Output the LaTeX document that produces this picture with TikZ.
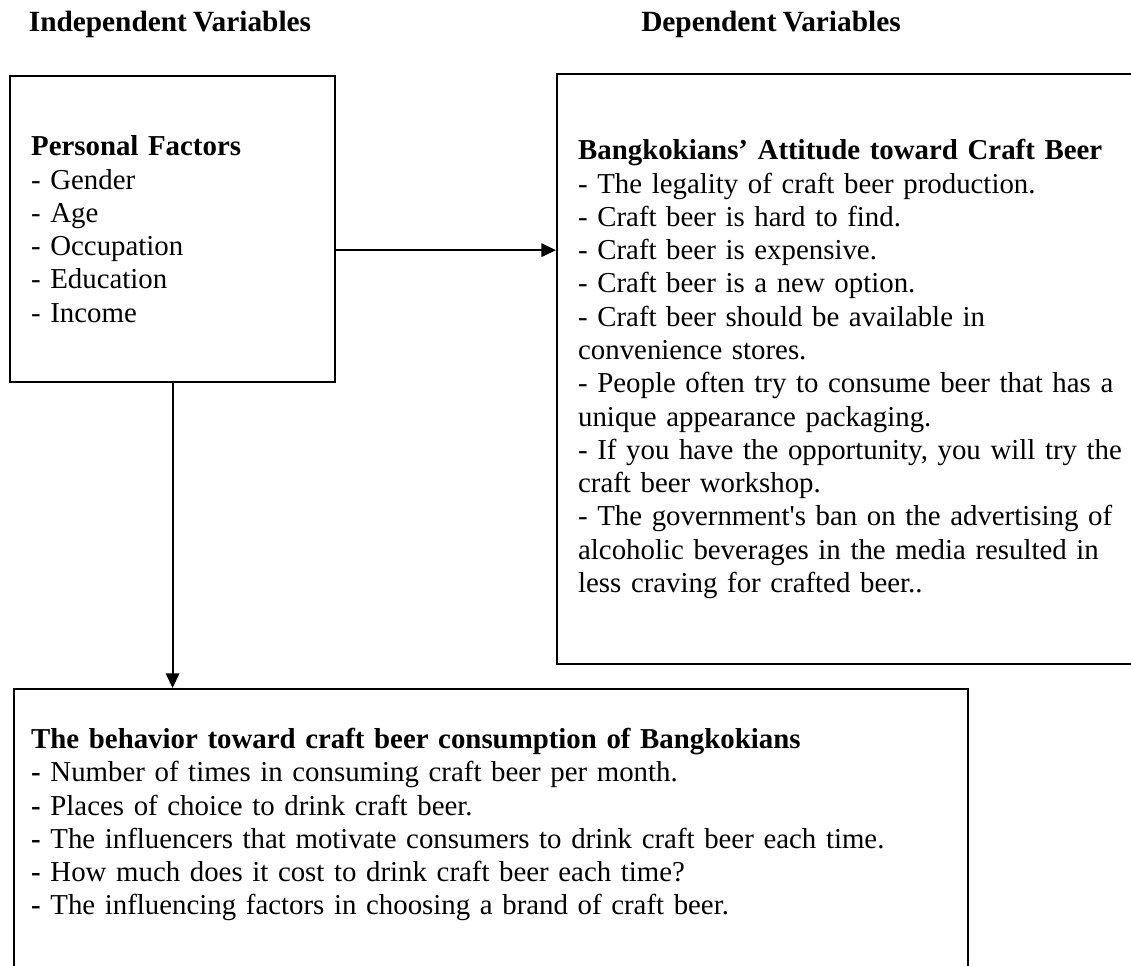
\documentclass[tikz,border=0pt]{standalone}
\usepackage{fontspec}
\setmainfont{Liberation Serif}[Ligatures=TeXOff, WordSpace=0.85]
\usetikzlibrary{arrows.meta,positioning}
\begin{document}
\begin{tikzpicture}
		[x=0.409pt, y=-0.409pt,
		every node/.style={font=\fontsize{11.8}{13.6}\selectfont},
		head/.style={font=\fontsize{12}{13.6}\selectfont\bfseries, anchor=base},
		box/.style={draw, line width=0.9pt, align=left, anchor=north west,
			inner xsep=8.6pt},
		flow/.style={line width=0.8pt, -{Triangle[length=6pt, width=5.5pt]}}]
		\useasboundingbox (0,0) rectangle (1131,966);
		\clip (0,0) rectangle (1131,966);
		\node[head] (indhead) at (170,32) {Independent Variables};
		\node[head] (dephead) at (771,32) {Dependent Variables};
		\node[box, text width=115.7pt, minimum height=125.2pt] (persbox) at (9,75)
		{\textbf{Personal Factors}\\
			- Gender\\
			- Age\\
			- Occupation\\
			- Education\\
			- Income};
		\node[box, text width=229.8pt, minimum height=241.3pt] (attbox) at (556,73)
		{\textbf{Bangkokians’ Attitude toward Craft Beer}\\
			- The legality of craft beer production.\\
			- Craft beer is hard to find.\\
			- Craft beer is expensive.\\
			- Craft beer is a new option.\\
			- Craft beer should be available in\\
			convenience stores.\\
			- People often try to consume beer that has a\\
			unique appearance packaging.\\
			- If you have the opportunity, you will try the\\
			craft beer workshop.\\
			- The government's ban on the advertising of\\
			alcoholic beverages in the media resulted in\\
			less craving for crafted beer..};
		\node[box, inner xsep=7pt, inner ysep=16pt, text width=376.2pt, text depth=98pt] (behbox) at (13,688)
		{\textbf{The behavior toward craft beer consumption of Bangkokians}\\
			\textbf{-} Number of times in consuming craft beer per month.\\
			\textbf{-} Places of choice to drink craft beer.\\
			\textbf{-} The influencers that motivate consumers to drink craft beer each time.\\
			\textbf{-} How much does it cost to drink craft beer each time?\\
			\textbf{-} The influencing factors in choosing a brand of craft beer.};
		\draw[flow] ([yshift=-8.6pt]persbox.east) -- ([yshift=-8.6pt]persbox.east -| attbox.west);
		\draw[flow] (persbox.south) -- (persbox.south |- behbox.north);
	\end{tikzpicture}
\end{document}
